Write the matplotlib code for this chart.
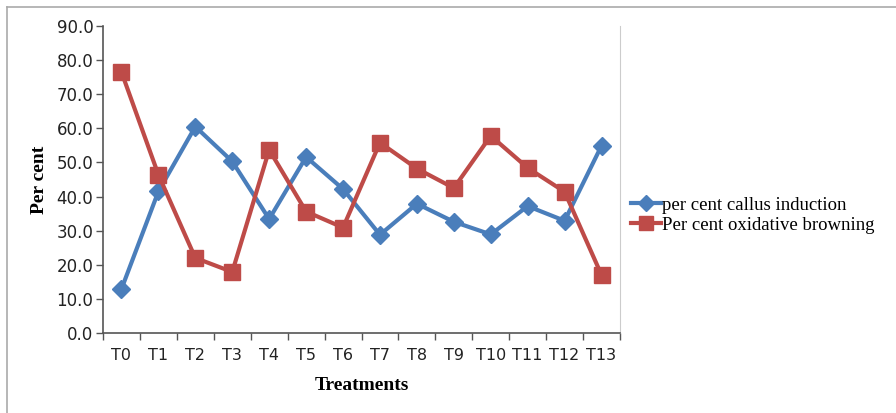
import matplotlib
matplotlib.use("Agg")
import matplotlib.pyplot as plt
from matplotlib.lines import Line2D

categories = ["T0", "T1", "T2", "T3", "T4", "T5", "T6", "T7", "T8", "T9", "T10", "T11", "T12", "T13"]
callus_induction = [12.9, 41.5, 60.5, 50.3, 33.4, 51.6, 42.2, 28.8, 37.9, 32.6, 28.9, 37.2, 32.9, 54.9]
oxidative_browning = [76.5, 46.4, 22.0, 17.9, 53.7, 35.6, 30.9, 55.8, 48.2, 42.5, 57.8, 48.4, 41.4, 17.0]
y_ticks = [0, 10, 20, 30, 40, 50, 60, 70, 80, 90]

blue = "#4a7ebb"
red = "#be4b48"

fig = plt.figure(figsize=(8.96, 4.13), dpi=100)
ax = fig.add_axes([103/896, 1-333/413, (620-103)/896, (333-26)/413])

x = list(range(len(categories)))
ax.plot(x, callus_induction, color=blue, lw=3, marker="D", ms=9,
        markerfacecolor=blue, markeredgecolor=blue, label="per cent callus induction", zorder=3)
ax.plot(x, oxidative_browning, color=red, lw=3, marker="s", ms=12,
        markerfacecolor=red, markeredgecolor=red, label="Per cent oxidative browning", zorder=3)

ax.set_xlim(-0.5, len(categories) - 0.5)
ax.set_ylim(0, 90)
ax.set_yticks(y_ticks)
ax.set_yticklabels([f"{v:.1f}" for v in y_ticks])
ax.set_xticks(x)
ax.set_xticklabels(categories)
ax.set_xticks([i - 0.5 for i in range(len(categories) + 1)], minor=True)
ax.tick_params(axis="x", which="major", length=0, pad=11, labelsize=11.5, colors="#222222")
ax.tick_params(axis="x", which="minor", length=5, width=1, color="#555555", direction="out")
ax.tick_params(axis="y", length=5, width=1, color="#555555", direction="out", labelsize=12, labelcolor="#222222", pad=2)

ax.spines["top"].set_visible(False)
ax.spines["left"].set_color("#555555")
ax.spines["bottom"].set_color("#555555")
ax.spines["right"].set_color("#cccccc")
ax.spines["left"].set_linewidth(1.2)
ax.spines["bottom"].set_linewidth(1.2)

ax.set_xlabel("Treatments", family="Liberation Serif", fontweight="bold", fontsize=14, labelpad=10)
fig.text(39/896, 1-180/413, "Per cent", rotation=90, family="Liberation Serif", fontweight="bold",
         fontsize=14, ha="center", va="center")

leg = fig.legend(loc="upper left", bbox_to_anchor=(623/896, 1-189/413), frameon=False,
                 prop={"family": "Liberation Serif", "size": 13.5}, handlelength=1.6,
                 handletextpad=0.1, labelspacing=0.15, borderaxespad=0, markerscale=0.85)

# outer frame (top and left edges)
fig.add_artist(Line2D([7/896, 1], [1-7/413, 1-7/413], transform=fig.transFigure, color="#aaaaaa", lw=1.2))
fig.add_artist(Line2D([7/896, 7/896], [0, 1-7/413], transform=fig.transFigure, color="#aaaaaa", lw=1.2))

fig.savefig("out.png", dpi=100)
